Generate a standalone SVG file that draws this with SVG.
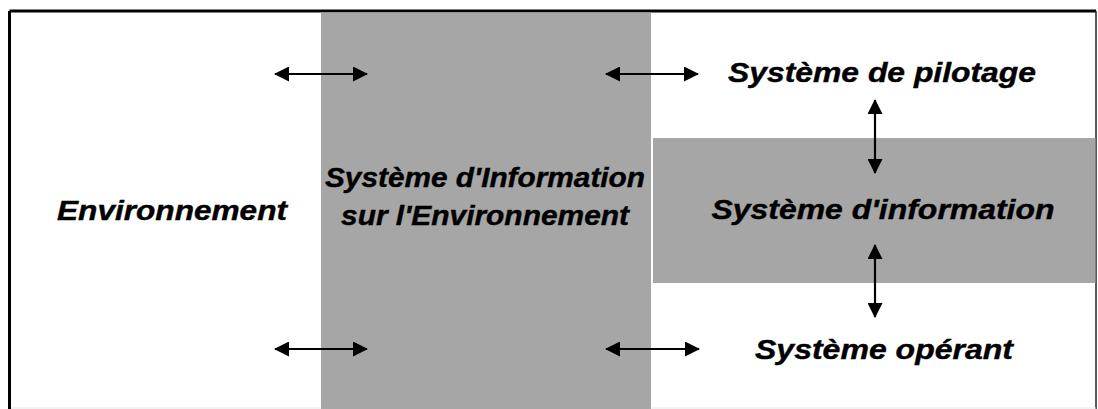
<svg xmlns="http://www.w3.org/2000/svg" width="1098" height="409" viewBox="0 0 1098 409">
<defs>
<style>
.lbl{font-family:"Liberation Sans",Arial,sans-serif;font-weight:bold;font-style:italic;font-size:27px;fill:#000;text-anchor:middle;stroke:#000;stroke-width:0.4}
.band{fill:#a6a6a6}
.conn{stroke:#000;stroke-width:2.2;fill:none;marker-start:url(#ah);marker-end:url(#ah)}
</style>
<marker id="ah" markerUnits="userSpaceOnUse" markerWidth="15" markerHeight="15" viewBox="0 0 15 15" refX="14" refY="7.5" orient="auto-start-reverse">
<path d="M0,0 L15,7.5 L0,15 z" fill="#000"/>
</marker>
</defs>
<rect x="0" y="0" width="1098" height="409" fill="#fff"/>
<g id="frame">
<line x1="9.5" y1="11" x2="1096" y2="11" stroke="#000" stroke-width="3"/>
<line x1="9.5" y1="11" x2="9.5" y2="409" stroke="#000" stroke-width="3"/>
<line x1="1096" y1="11" x2="1096" y2="409" stroke="#222" stroke-width="1.5"/>
<line x1="11" y1="408" x2="1096" y2="408" stroke="#e6e6e6" stroke-width="1"/>
</g>
<g id="environnement">
<text class="lbl" x="172" y="220" textLength="230" lengthAdjust="spacingAndGlyphs">Environnement</text>
</g>
<g id="sie">
<rect class="band" x="321" y="12.5" width="330" height="396.5"/>
<text class="lbl" x="485" y="187" textLength="320" lengthAdjust="spacingAndGlyphs">Système d'Information</text>
<text class="lbl" x="485" y="225" textLength="288" lengthAdjust="spacingAndGlyphs">sur l'Environnement</text>
</g>
<g id="pilotage">
<text class="lbl" x="882" y="82" textLength="308" lengthAdjust="spacingAndGlyphs">Système de pilotage</text>
</g>
<g id="information">
<rect class="band" x="653" y="138" width="442.5" height="145"/>
<text class="lbl" x="883" y="219" textLength="343" lengthAdjust="spacingAndGlyphs">Système d'information</text>
</g>
<g id="operant">
<text class="lbl" x="884" y="359" textLength="258" lengthAdjust="spacingAndGlyphs">Système opérant</text>
</g>
<g id="connectors">
<line class="conn" x1="275" y1="74" x2="367" y2="74"/>
<line class="conn" x1="275" y1="349" x2="367" y2="349"/>
<line class="conn" x1="606" y1="74" x2="698" y2="74"/>
<line class="conn" x1="606" y1="349" x2="699" y2="349"/>
<line class="conn" x1="875" y1="100" x2="875" y2="173"/>
<line class="conn" x1="875" y1="245" x2="875" y2="317"/>
</g>
</svg>
